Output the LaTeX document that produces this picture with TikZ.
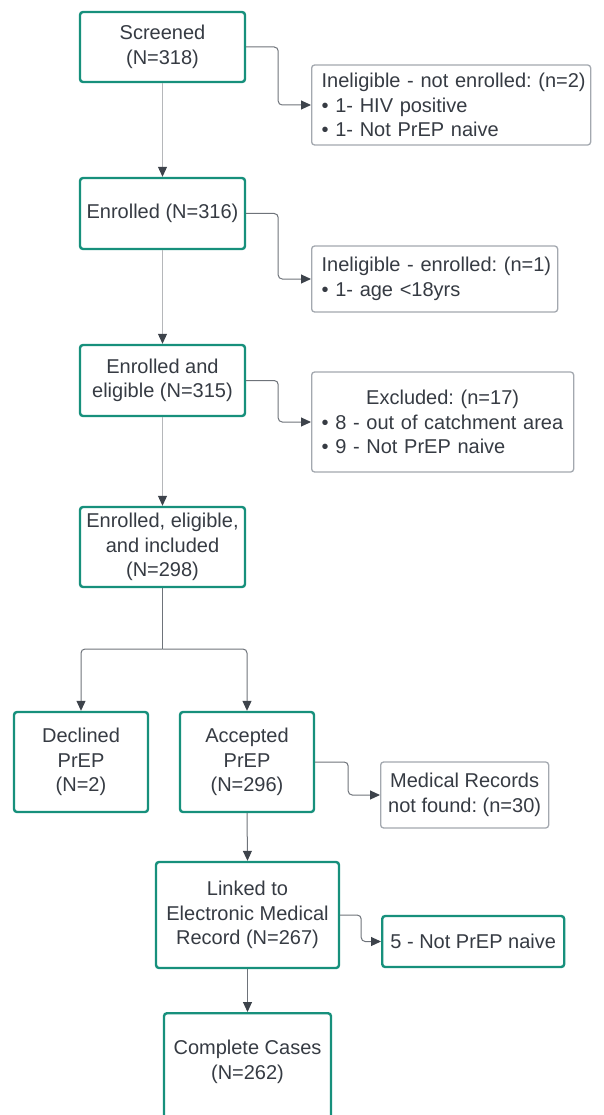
\documentclass[tikz,border=0pt]{standalone}
\usepackage{fontspec}
\setmainfont{Liberation Sans}
\usetikzlibrary{arrows.meta}
\frenchspacing
\definecolor{teal1}{HTML}{17907C}
\definecolor{grayb}{HTML}{A3A8AF}
\definecolor{txtc}{HTML}{363B43}
\definecolor{connd}{HTML}{6E737A}
\definecolor{connl}{HTML}{B5B7BA}
\definecolor{tipc}{HTML}{3D434B}
\tikzset{
  every node/.style={font=\fontsize{20}{24.5}\selectfont, text=txtc},
  tealbox/.style={draw=teal1, line width=2.4pt, rounded corners=3pt, align=center, inner sep=0pt, fill=white},
  graybox/.style={draw=grayb, line width=1.3pt, rounded corners=3pt, inner sep=0pt, fill=white},
  txt/.style={align=center, inner sep=0pt},
  conn/.style={draw=connd, line width=1pt, rounded corners=4pt, -{Triangle[length=10pt,width=9pt,color=tipc]}},
  connlt/.style={draw=connl, line width=1pt, -{Triangle[length=10pt,width=9pt,color=tipc]}},
  plain/.style={draw=connd, line width=1pt, rounded corners=4pt}
}
\begin{document}
\begin{tikzpicture}[x=1pt,y=-1pt]
\useasboundingbox (0,0) rectangle (603,1115);
% main column
\node[tealbox, minimum width=165, minimum height=70] (scr) at (162.5,47) {Screened\\(N=318)};
\node[tealbox, minimum width=165, minimum height=71] (enr) at (162.5,213.5) {Enrolled (N=316)};
\node[tealbox, minimum width=165, minimum height=71] (eel) at (162.5,380.5) {Enrolled and\\eligible (N=315)};
\node[tealbox, minimum width=165, minimum height=80] (eei) at (162.5,547) {Enrolled, eligible,\\and included\\(N=298)};
\node[tealbox, minimum width=134, minimum height=100] (dec) at (81,762) {Declined\\PrEP\\(N=2)};
\node[tealbox, minimum width=134, minimum height=100] (acc) at (247,762) {Accepted\\PrEP\\(N=296)};
\node[tealbox, minimum width=183, minimum height=106] (lnk) at (247.5,915) {Linked to\\Electronic Medical\\Record (N=267)};
\node[tealbox, minimum width=167, minimum height=112, anchor=north] (cmp) at (247.5,1012) {};
\node[txt] (cmptxt) at (247.5,1062) {Complete Cases\\(N=262)};
% side boxes
\node[graybox, anchor=west, minimum height=80, text width=259pt, inner xsep=10pt, align=left] (in1) at (311,105)
  {\mbox{Ineligible - not enrolled: (n=2)}\\\mbox{\textbullet\ 1- HIV positive}\\\mbox{\textbullet\ 1- Not PrEP naive}};
\node[graybox, anchor=west, minimum height=66, text width=226pt, inner xsep=10pt, align=left] (in2) at (311,279)
  {\mbox{Ineligible - enrolled: (n=1)}\\\mbox{\textbullet\ 1- age {<}18yrs}};
\node[graybox, anchor=west, minimum height=100, text width=242pt, inner xsep=10pt, align=left] (exc) at (311,422)
  {\makebox[242pt]{Excluded: (n=17)}\\\mbox{\textbullet\ 8 - out of catchment area}\\\mbox{\textbullet\ 9 - Not PrEP naive}};
\node[graybox, anchor=west, minimum width=168, minimum height=66, align=center] (med) at (380,795)
  {Medical Records\\not found: (n=30)};
\node[tealbox, anchor=west, minimum width=182, minimum height=51] (npn) at (381,941.5) {5 - Not PrEP naive};
\coordinate (split) at (162.5,649);
% vertical connectors
\draw[connlt] (scr.south) -- (enr.north);
\draw[connlt] (enr.south) -- (eel.north);
\draw[connlt] (eel.south) -- (eei.north);
\draw[plain] (eei.south) -- (split);
\draw[conn] (split) -| (dec.north);
\draw[conn] (split) -| (acc.north);
\draw[conn] (acc.south) -- (lnk.north);
\draw[conn] (lnk.south) -- (cmp.north);
% side connectors
\draw[conn] (scr.east) -- ++(32,0) |- (in1.west);
\draw[conn] (enr.east) -- ++(32,0) |- (in2.west);
\draw[conn] (eel.east) -- ++(32,0) |- (exc.west);
\draw[conn] (acc.east) -- ++(33,0) |- (med.west);
\draw[conn] (lnk.east) -- ++(21,0) |- (npn.west);
\end{tikzpicture}
\end{document}
